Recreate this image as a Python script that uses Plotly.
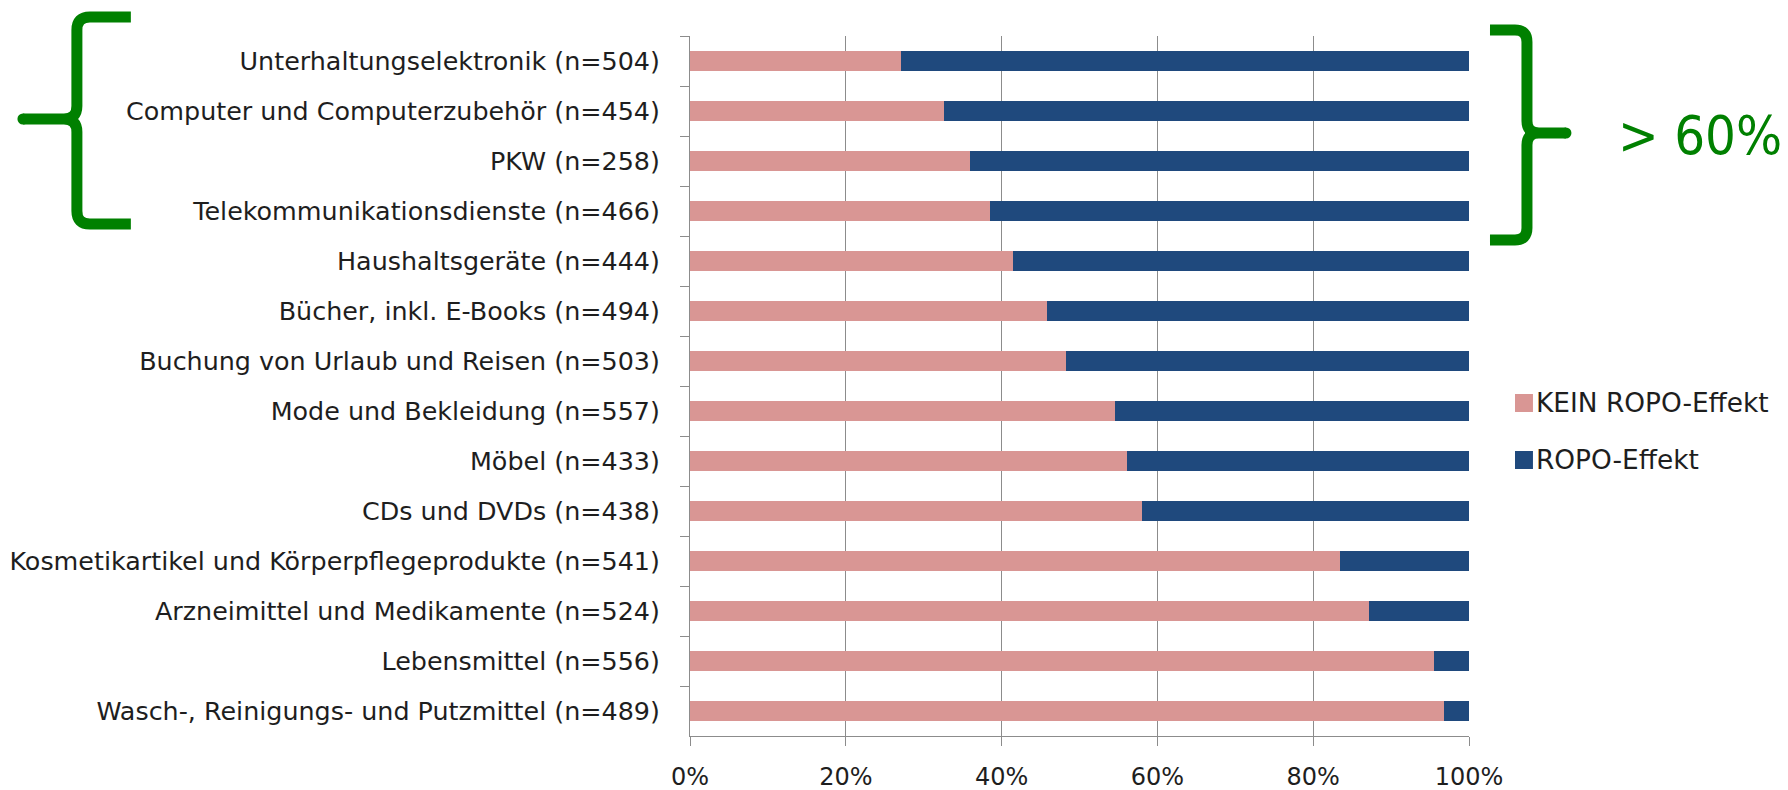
import plotly.graph_objects as go

# Product categories, top to bottom
categories = [
    "Unterhaltungselektronik (n=504)",
    "Computer und Computerzubehör (n=454)",
    "PKW (n=258)",
    "Telekommunikationsdienste (n=466)",
    "Haushaltsgeräte (n=444)",
    "Bücher, inkl. E-Books (n=494)",
    "Buchung von Urlaub und Reisen (n=503)",
    "Mode und Bekleidung (n=557)",
    "Möbel (n=433)",
    "CDs und DVDs (n=438)",
    "Kosmetikartikel und Körperpflegeprodukte (n=541)",
    "Arzneimittel und Medikamente (n=524)",
    "Lebensmittel (n=556)",
    "Wasch-, Reinigungs- und Putzmittel (n=489)",
]

# Share of respondents in percent
kein_ropo = [27.1, 32.6, 35.9, 38.5, 41.4, 45.8, 48.3, 54.5, 56.1, 58.0, 83.5, 87.1, 95.5, 96.8]
ropo = [round(100 - v, 1) for v in kein_ropo]

series_names = ["KEIN ROPO-Effekt", "ROPO-Effekt"]
series_colors = ["#D99694", "#1F497D"]

x_ticks = [0, 20, 40, 60, 80, 100]
x_tick_labels = [f"{v}%" for v in x_ticks]
bracket_label = "> 60%"

W, H = 1788, 790
# plot area in pixels
PL, PR, PT, PB = 689.5, 1469.0, 36.0, 736.0
GREEN = "#008000"
GREY = "#8C8C8C"
TEXT = "#1E1E1E"
FONT = "DejaVu Sans"


def px(x):
    return (x - PL) / (PR - PL)


def py(y):
    return (PB - y) / (PB - PT)


def path(points):
    """Build an SVG path in paper coordinates from pixel commands."""
    out = []
    for cmd, *coords in points:
        pairs = []
        for i in range(0, len(coords), 2):
            pairs.append(f"{px(coords[i]):.5f},{py(coords[i + 1]):.5f}")
        out.append(cmd + " " + " ".join(pairs))
    return " ".join(out)


fig = go.Figure()
for name, vals, color in zip(series_names, [kein_ropo, ropo], series_colors):
    fig.add_trace(go.Bar(
        y=categories, x=vals, name=name, orientation="h",
        marker=dict(color=color, line=dict(width=0)),
        showlegend=False,
    ))

shapes = []
# left curly brace
left_brace = path([
    ("M", 130, 17), ("L", 89, 17), ("Q", 76, 17, 76, 30), ("L", 76, 106),
    ("Q", 76, 119, 63, 119), ("L", 22, 119),
    ("M", 63, 119), ("Q", 76, 119, 76, 132), ("L", 76, 211),
    ("Q", 76, 224, 89, 224), ("L", 130, 224),
])
# right curly brace
right_brace = path([
    ("M", 1490, 30), ("L", 1515, 30), ("Q", 1527, 30, 1527, 42), ("L", 1527, 121),
    ("Q", 1527, 133, 1539, 133), ("L", 1566, 133),
    ("M", 1539, 133), ("Q", 1527, 133, 1527, 145), ("L", 1527, 228),
    ("Q", 1527, 240, 1515, 240), ("L", 1490, 240),
])
for p in (left_brace, right_brace):
    shapes.append(dict(type="path", xref="paper", yref="paper", path=p,
                       line=dict(color=GREEN, width=11)))
# rounded tips
for cx, cy in ((22, 119), (1566, 133)):
    shapes.append(dict(type="circle", xref="paper", yref="paper",
                       x0=px(cx - 5.5), x1=px(cx + 5.5), y0=py(cy + 5.5), y1=py(cy - 5.5),
                       fillcolor=GREEN, line=dict(width=0)))

annotations = [
    dict(text=bracket_label, xref="paper", yref="paper", x=px(1700), y=py(135),
         xanchor="center", yanchor="middle", showarrow=False,
         font=dict(family="DejaVu Sans Condensed, DejaVu Sans", size=54, color=GREEN)),
]

# legend
for i, (name, color) in enumerate(zip(series_names, series_colors)):
    cy = 403 + i * 57
    shapes.append(dict(type="rect", xref="paper", yref="paper",
                       x0=px(1515), x1=px(1533), y0=py(cy + 9), y1=py(cy - 9),
                       fillcolor=color, line=dict(width=0)))
    annotations.append(dict(text=name, xref="paper", yref="paper", x=px(1534), y=py(cy),
                            xanchor="left", yanchor="middle", showarrow=False,
                            font=dict(family=FONT, size=26.4, color=TEXT)))

fig.update_layout(
    width=W, height=H,
    margin=dict(l=PL, r=W - PR, t=PT, b=H - PB, pad=0, autoexpand=False),
    barmode="stack", bargap=0.61,
    paper_bgcolor="white", plot_bgcolor="white",
    font=dict(family=FONT, size=25, color=TEXT),
    shapes=shapes, annotations=annotations,
    xaxis=dict(
        range=[0, 100], tickmode="array", tickvals=x_ticks, ticktext=x_tick_labels,
        showgrid=True, gridcolor=GREY, gridwidth=1,
        showline=True, linecolor=GREY, linewidth=1,
        ticks="outside", ticklen=9, tickcolor=GREY, tickwidth=1,
        tickfont=dict(size=24, color=TEXT), ticklabelstandoff=10,
        zeroline=False, fixedrange=True, automargin=False,
    ),
    yaxis=dict(
        type="category", categoryorder="array", categoryarray=categories,
        autorange="reversed",
        showgrid=False, showline=True, linecolor=GREY, linewidth=1,
        ticks="outside", tickson="boundaries", ticklen=9, tickcolor=GREY, tickwidth=1,
        tickfont=dict(size=25.4, color=TEXT), ticklabelstandoff=24,
        zeroline=False, fixedrange=True, automargin=False,
    ),
)

fig.write_html("out.html")
